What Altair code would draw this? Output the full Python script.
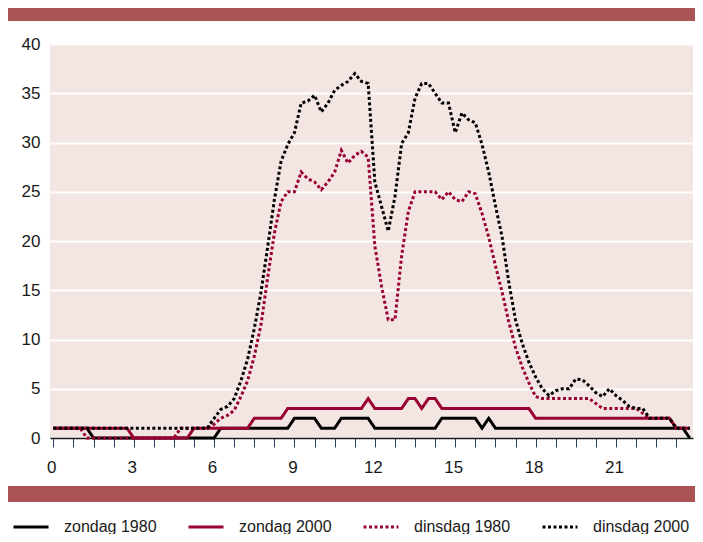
import altair as alt
import pandas as pd

FONT = "Liberation Sans, Arial, sans-serif"

series_names = ["zondag 1980", "zondag 2000", "dinsdag 1980", "dinsdag 2000"]
series_colors = ["#000000", "#990033", "#990033", "#000000"]
series_dash = [[1, 0], [1, 0], [3, 2.5], [3, 2.5]]

# quarter-hour time points (hours)
hours = [i / 4 for i in range(96)]

zondag_1980 = [
    1, 1, 1, 1, 1, 1, 0, 0, 0, 0, 0, 0,
    0, 0, 0, 0, 0, 0, 0, 0, 0, 0, 0, 0,
    0, 1, 1, 1, 1, 1, 1, 1, 1, 1, 1, 1,
    2, 2, 2, 2, 1, 1, 1, 2, 2, 2, 2, 2,
    1, 1, 1, 1, 1, 1, 1, 1, 1, 1, 2, 2,
    2, 2, 2, 2, 1, 2, 1, 1, 1, 1, 1, 1,
    1, 1, 1, 1, 1, 1, 1, 1, 1, 1, 1, 1,
    1, 1, 1, 1, 1, 1, 1, 1, 1, 1, 1, 0,
]
zondag_2000 = [
    1, 1, 1, 1, 1, 1, 1, 1, 1, 1, 1, 1,
    0, 0, 0, 0, 0, 0, 0, 0, 0, 1, 1, 1,
    1, 1, 1, 1, 1, 1, 2, 2, 2, 2, 2, 3,
    3, 3, 3, 3, 3, 3, 3, 3, 3, 3, 3, 4,
    3, 3, 3, 3, 3, 4, 4, 3, 4, 4, 3, 3,
    3, 3, 3, 3, 3, 3, 3, 3, 3, 3, 3, 3,
    2, 2, 2, 2, 2, 2, 2, 2, 2, 2, 2, 2,
    2, 2, 2, 2, 2, 2, 2, 2, 2, 1, 1, 1,
]
dinsdag_1980 = [
    1, 1, 1, 1, 1, 0, 0, 0, 0, 0, 0, 0,
    0, 0, 0, 0, 0, 0, 0, 1, 1, 1, 1, 1,
    1.4, 2, 2.3, 2.8, 4.2, 5.8, 8.3, 11.5, 16.3, 20.8, 24, 25,
    25, 27, 26.3, 26, 25.2, 26, 27, 29.2, 27.9, 28.7, 29.1, 28.5,
    19.5, 15.4, 12, 12, 18.5, 23, 25, 25, 25, 25, 24.2, 25,
    24.2, 24, 25, 24.8, 22.8, 20.4, 17.5, 14.8, 11.8, 9.2, 7.2, 5.6,
    4.2, 4, 4, 4, 4, 4, 4, 4, 4, 3.5, 3, 3,
    3, 3, 3, 3, 2.5, 2, 2, 2, 2, 1, 1, 1,
]
dinsdag_2000 = [
    1, 1, 1, 1, 1, 1, 1, 1, 1, 1, 1, 1,
    1, 1, 1, 1, 1, 1, 1, 1, 1, 1, 1, 1,
    2, 2.9, 3.2, 4, 5.8, 8, 11.1, 14.8, 19.4, 24.2, 28.1, 29.8,
    31, 34, 34.2, 34.8, 33.1, 34, 35.3, 35.8, 36.2, 37, 36.2, 36,
    26, 23.5, 21, 24.5, 29.9, 31, 34.5, 36, 36, 35, 34, 34,
    31, 33, 32.3, 32, 29.8, 27, 23.6, 20.4, 15.8, 12, 9.6, 7.7,
    6.2, 5, 4.3, 4.8, 5, 5, 6, 5.9, 5.3, 4.6, 4.2, 5,
    4.3, 3.8, 3.2, 3, 3, 2, 2, 2, 2, 1, 1, 1,
]

x_tick_values = [k * 0.75 for k in range(32)]
y_tick_values = [0, 5, 10, 15, 20, 25, 30, 35, 40]

all_series = [zondag_1980, zondag_2000, dinsdag_1980, dinsdag_2000]
rows = []
for name, vals in zip(series_names, all_series):
    for h, v in zip(hours, vals):
        rows.append({"hour": h, "value": v, "serie": name})
df = pd.DataFrame(rows)

color_scale = alt.Scale(domain=series_names, range=series_colors)
dash_scale = alt.Scale(domain=series_names, range=series_dash)

legend = alt.Legend(
    title=None, orient="none", legendX=-38, legendY=464, direction="horizontal",
    columns=4, columnPadding=25, symbolType="stroke", symbolSize=1225,
    symbolStrokeWidth=3, labelOffset=14, labelFontSize=16, labelFont=FONT,
    labelColor="#1a1a1a", labelLimit=0, padding=0,
)

x_enc = alt.X(
    "hour:Q",
    scale=alt.Scale(domain=[-0.125, 23.875], nice=False, zero=False),
    axis=alt.Axis(
        values=x_tick_values,
        labelExpr="datum.value % 3 == 0 ? datum.label : ''",
        grid=False, tickSize=9, tickColor="#2e3f66", tickWidth=1,
        domainColor="#1a1a1a", domainWidth=1.5,
        labelFontSize=17, labelFont=FONT, labelColor="#1a1a1a",
        labelPadding=12, labelOffset=-2, labelFlush=False, labelOverlap=False,
        title=None,
    ),
)
y_enc = alt.Y(
    "value:Q",
    scale=alt.Scale(domain=[0, 40], nice=False),
    axis=alt.Axis(
        values=y_tick_values, grid=True, gridColor="#ffffff", gridWidth=2,
        ticks=False, domain=False, labelPadding=10, labelFontSize=17,
        labelFont=FONT, labelColor="#1a1a1a", labelFlush=False, title=None,
    ),
)

layers = []
band_df = pd.DataFrame({"k": [0]})
top_band = alt.Chart(band_df).mark_rect(color="#ab5456").encode(
    x=alt.value(-42), x2=alt.value(646), y=alt.value(-39), y2=alt.value(-23)
)
bottom_band = alt.Chart(band_df).mark_rect(color="#ab5456").encode(
    x=alt.value(-43), x2=alt.value(646), y=alt.value(442), y2=alt.value(458)
)
layers += [top_band, bottom_band]

for name in series_names:
    layers.append(
        alt.Chart(df)
        .transform_filter(alt.datum.serie == name)
        .mark_line(strokeWidth=3, strokeCap="butt", strokeJoin="miter")
        .encode(
            x=x_enc,
            y=y_enc,
            color=alt.Color("serie:N", scale=color_scale, legend=legend),
            strokeDash=alt.StrokeDash("serie:N", scale=dash_scale, legend=legend),
        )
    )

chart = (
    alt.layer(*layers)
    .properties(
        width=643, height=394,
        autosize=alt.AutoSizeParams(type="none"),
        padding={"left": 42, "top": 36, "right": 2, "bottom": 96},
    )
    .configure_view(fill="#f3e5e1", stroke=None)
)

chart.save("out.html", embed_options={"renderer": "svg", "actions": False})
